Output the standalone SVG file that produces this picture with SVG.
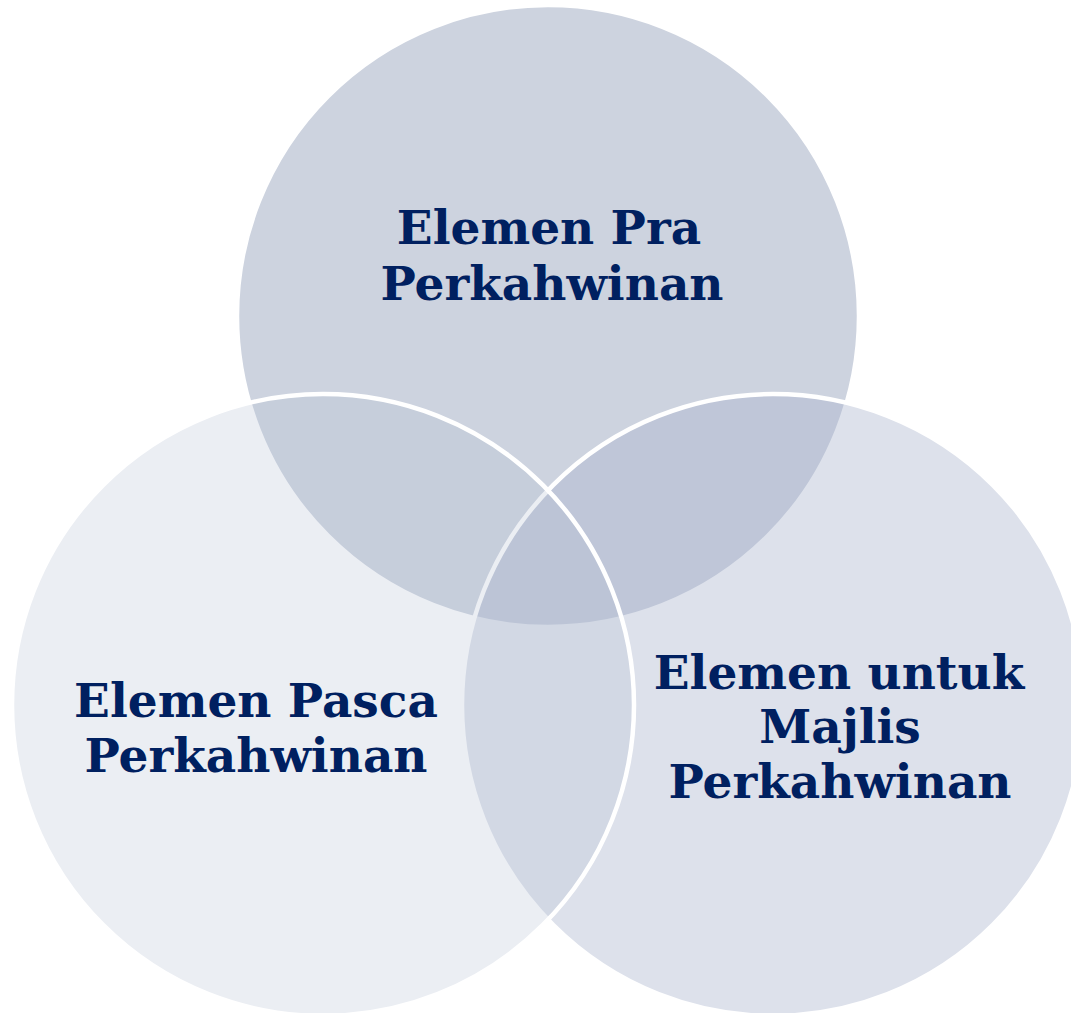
<svg xmlns="http://www.w3.org/2000/svg" width="1071" height="1013" viewBox="0 0 1071 1013">
<style>
.c{stroke:#FFFFFF;stroke-width:4.5}
.t{font-family:"DejaVu Serif","Liberation Serif",serif;font-weight:bold;font-size:47px;fill:#002060;text-anchor:middle}
</style>
<rect x="0" y="0" width="1071" height="1013" fill="#FFFFFF"/>
<g id="node-pra">
<circle class="c" cx="548" cy="316" r="311" fill="#CDD3DF"/>
</g>
<g id="node-majlis">
<circle class="c" cx="773" cy="705" r="311" fill="rgb(170,180,204)" fill-opacity="0.4"/>
</g>
<g id="node-pasca">
<circle class="c" cx="323" cy="705" r="311" fill="rgb(182,193,212)" fill-opacity="0.27"/>
</g>
<g id="labels">
<text class="t" x="549" y="244">Elemen Pra</text>
<text class="t" x="552" y="300">Perkahwinan</text>
<text class="t" x="256" y="717">Elemen Pasca</text>
<text class="t" x="256" y="772">Perkahwinan</text>
<text class="t" x="839" y="689">Elemen untuk</text>
<text class="t" x="840" y="743">Majlis</text>
<text class="t" x="840" y="798">Perkahwinan</text>
</g>
<g id="connectors"/>
</svg>
